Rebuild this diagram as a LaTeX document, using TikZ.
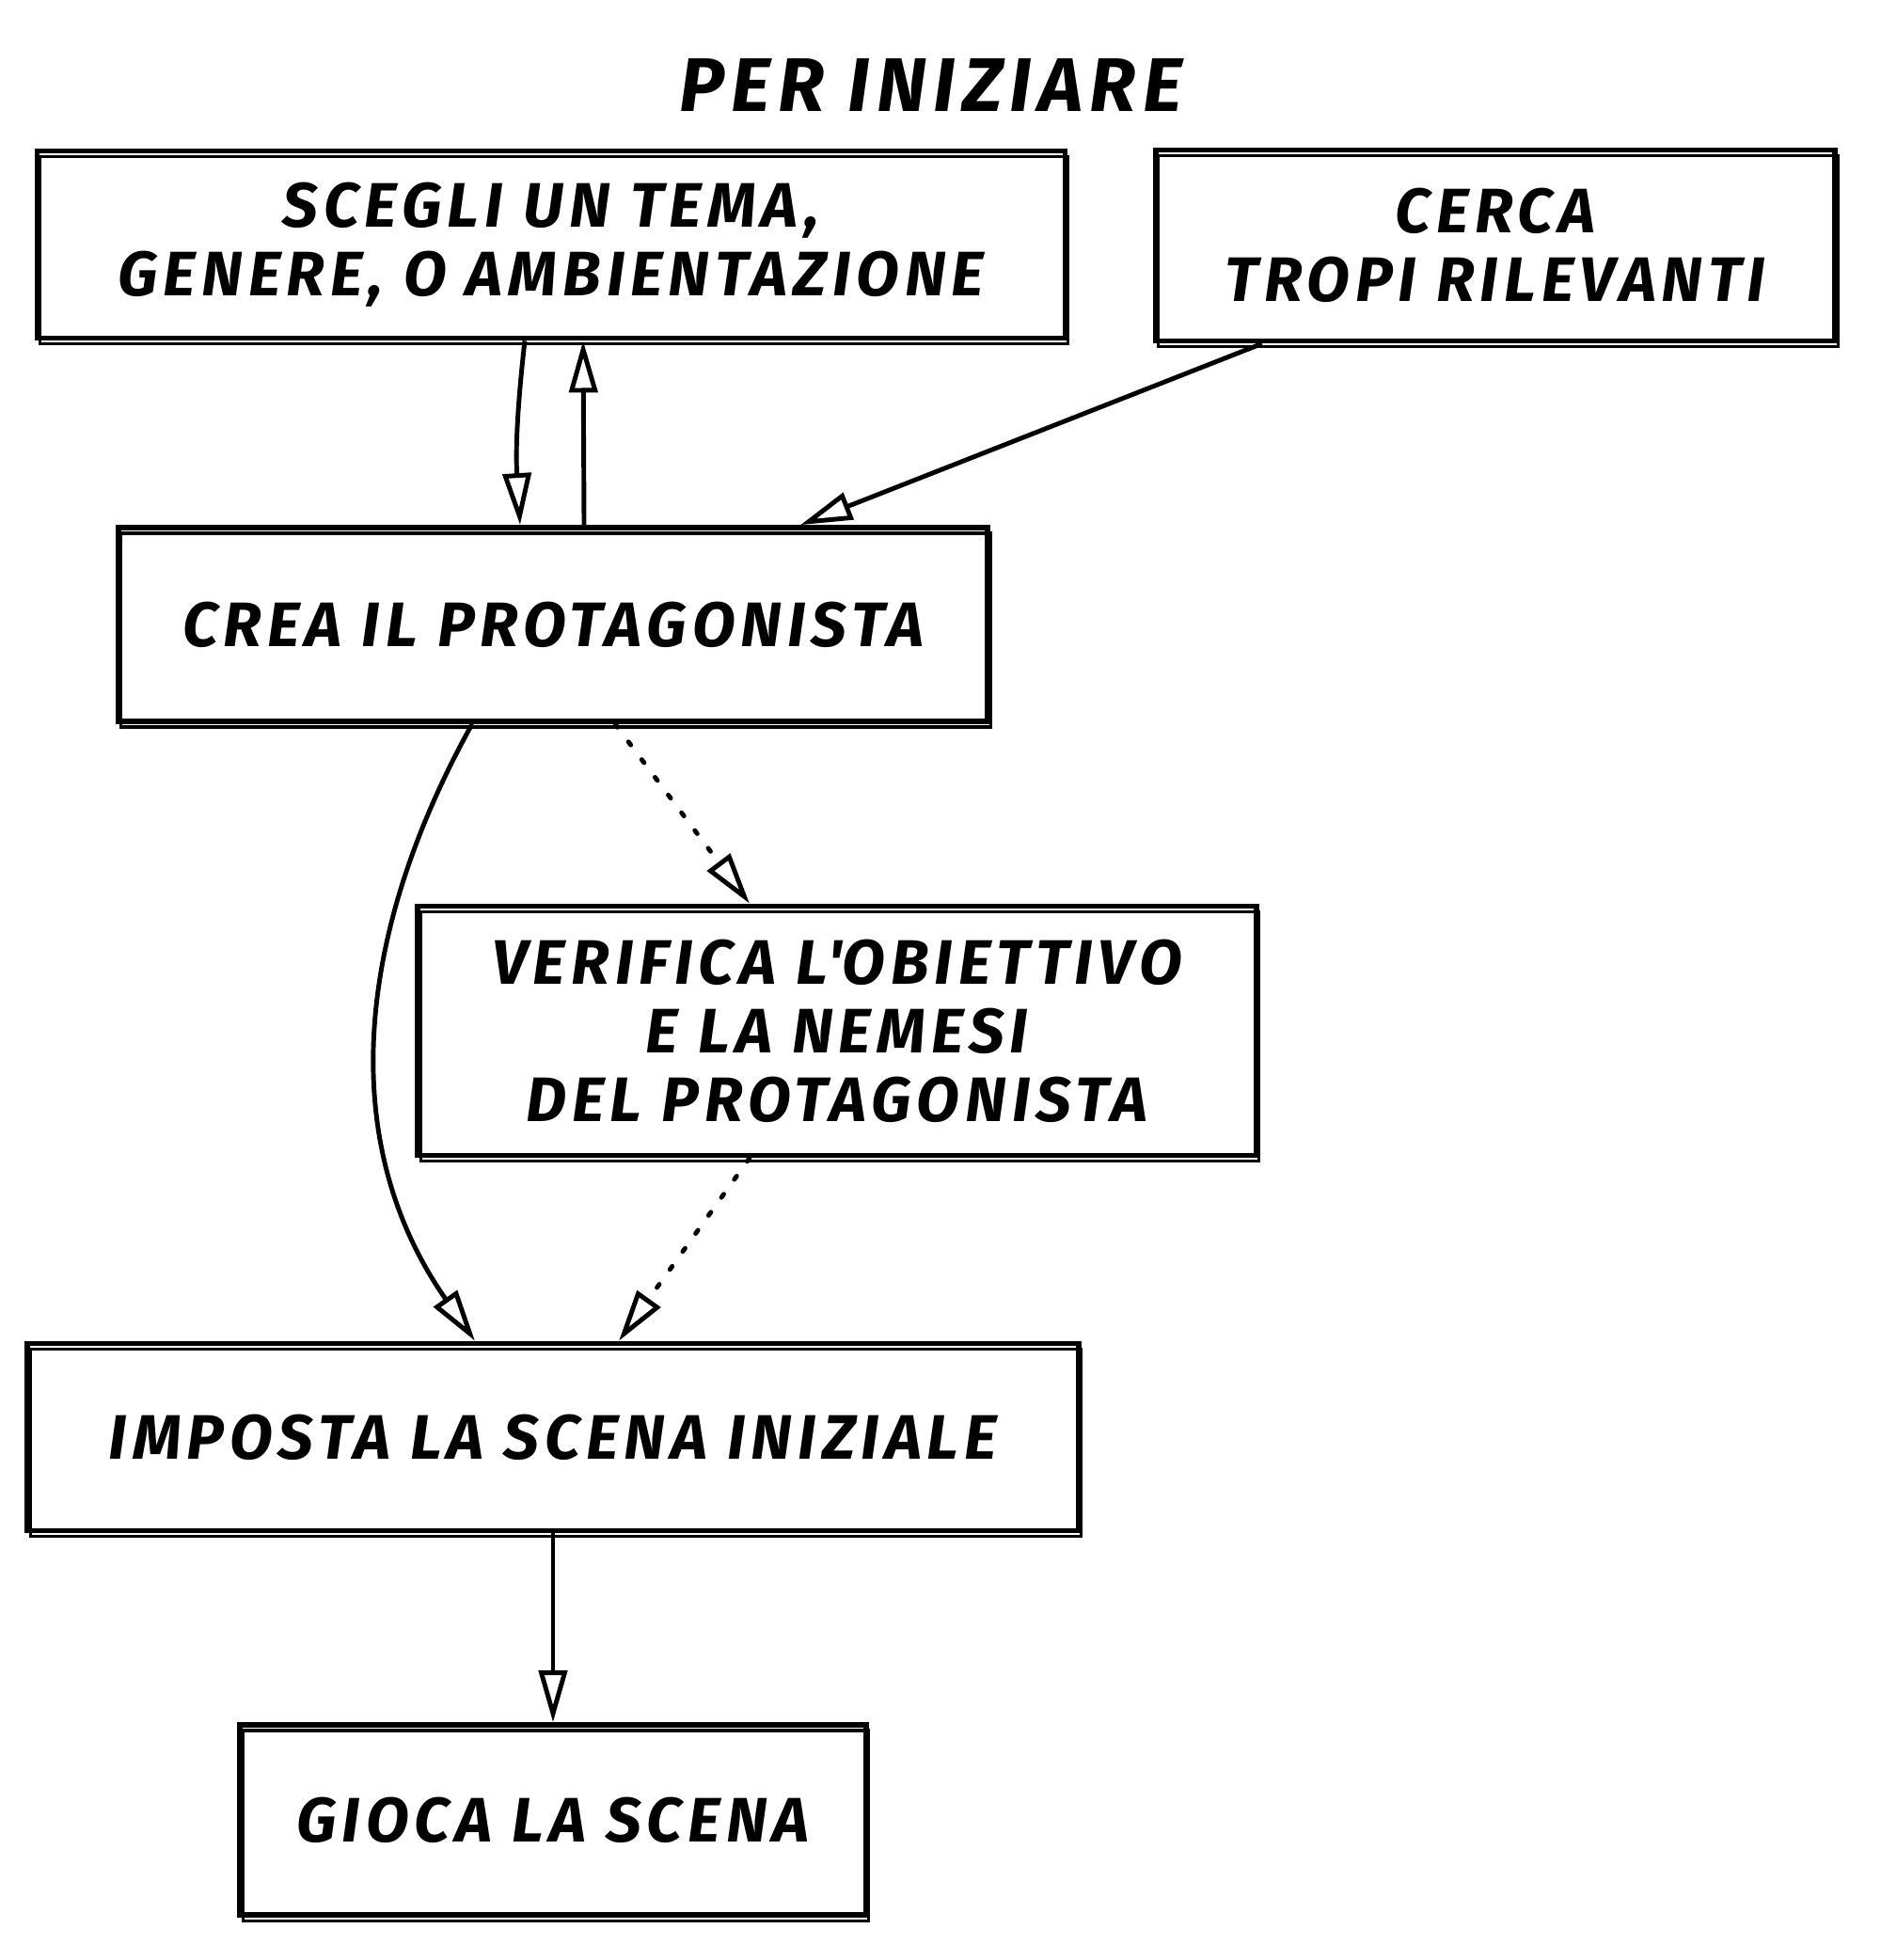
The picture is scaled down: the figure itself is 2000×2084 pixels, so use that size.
\documentclass[tikz,border=0pt]{standalone}
\usepackage{fontspec}
\setmainfont{Fira Sans}
\usetikzlibrary{arrows.meta, positioning, calc}

\newcommand{\testo}{\fontsize{19}{20.8}\selectfont\bfseries\itshape\addfontfeatures{LetterSpace=9}}
\newcommand{\titolo}{\fontsize{23}{26}\selectfont\bfseries\itshape\addfontfeatures{LetterSpace=9}}

\begin{document}
\begin{tikzpicture}[
    x=0.01cm,
    y=-0.01cm,
    every node/.style={font=\testo},
    riquadro/.style={
        draw=black,
        line width=1.6pt,
        align=center,
        inner sep=0pt,
        fill=white,
        postaction={
            draw,
            line width=0.9pt,
            transform canvas={shift={(3,6)}}
        }
    },
    freccia/.style={
        draw=black,
        line width=1.4pt,
        -{Triangle[open, length=0.55cm, width=0.3cm, line width=1.4pt]}
    },
    puntini/.style={
        freccia,
        line cap=round,
        dash pattern=on 1.2pt off 5.5pt
    }
]

\useasboundingbox (0,0) rectangle (2000,2084);

% ============================================================
% TITOLO
% ============================================================

\node[
    font=\titolo
] (titolo) at (990,90)
{PER INIZIARE};

% ============================================================
% RIQUADRI
% ============================================================

\node[
    riquadro,
    minimum width=10.92cm,
    minimum height=1.99cm
] (tema) at (586,260)
{SCEGLI UN TEMA,\\GENERE, O AMBIENTAZIONE};

\node[
    riquadro,
    minimum width=7.22cm,
    minimum height=2.03cm
] (tropi) at (1590,261)
{CERCA\\TROPI RILEVANTI};

\node[
    riquadro,
    minimum width=9.24cm,
    minimum height=2.06cm
] (protagonista) at (588,664)
{CREA IL PROTAGONISTA};

\node[
    riquadro,
    minimum width=8.91cm,
    minimum height=2.65cm
] (obiettivo) at (890,1096)
{VERIFICA L\textquotesingle OBIETTIVO\\E LA NEMESI\\DEL PROTAGONISTA};

\node[
    riquadro,
    minimum width=11.17cm,
    minimum height=1.99cm
] (scena) at (588,1528)
{IMPOSTA LA SCENA INIZIALE};

\node[
    riquadro,
    minimum width=6.65cm,
    minimum height=2.02cm
] (gioca) at (588,1935)
{GIOCA LA SCENA};

% ============================================================
% FRECCE
% ============================================================

\draw[freccia]
([xshift=-0.28cm]tema.south) to[bend right=5]
([xshift=-0.35cm]protagonista.north);

\draw[freccia]
([xshift=0.33cm]protagonista.north) --
([xshift=0.34cm]tema.south);

\draw[freccia]
([xshift=-2.48cm]tropi.south) --
([xshift=2.63cm]protagonista.north);

\draw[freccia]
([xshift=-0.86cm]protagonista.south) to[out=241, in=125]
([xshift=-0.83cm]scena.north);

\draw[puntini]
([xshift=0.66cm]protagonista.south) --
([xshift=-0.93cm]obiettivo.north);

\draw[puntini]
([xshift=-0.93cm]obiettivo.south) --
([xshift=0.70cm]scena.north);

\draw[freccia]
(scena.south) --
(gioca.north);

\end{tikzpicture}
\end{document}
